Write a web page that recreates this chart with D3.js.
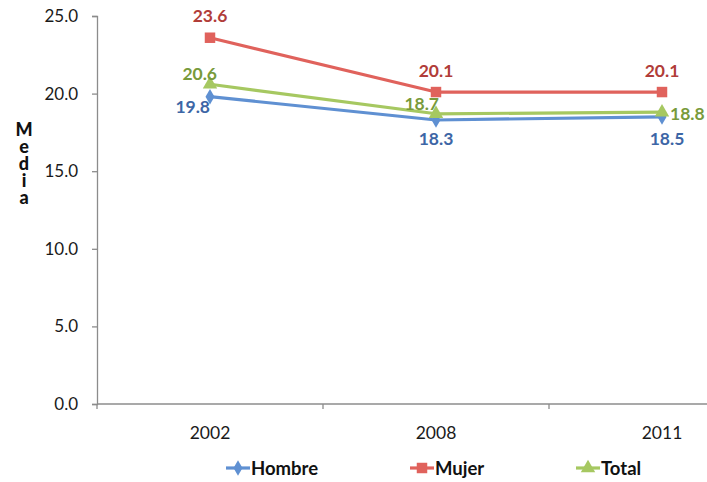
<!DOCTYPE html>
<html>
<head>
<meta charset="utf-8">
<script src="https://cdn.jsdelivr.net/npm/d3@7"></script>
<style>
  html, body { margin: 0; padding: 0; background: #fff; overflow: hidden; }
  svg { display: block; font-family: Lato, "Open Sans", sans-serif; }
</style>
</head>
<body>
<div id="chart"></div>
<script>
// Survey means by year and sex
const years = ["2002", "2008", "2011"];
const hombre = [19.8, 18.3, 18.5];
const mujer = [23.6, 20.1, 20.1];
const total = [20.6, 18.7, 18.8];
const yTicks = [0, 5, 10, 15, 20, 25];
const seriesNames = ["Hombre", "Mujer", "Total"];

const W = 707, H = 482;
const svg = d3.select("#chart").append("svg").attr("width", W).attr("height", H);

const x = d3.scaleBand().domain(years).range([97, 775]);
const y = d3.scaleLinear().domain([0, 25]).range([404, 16]);

// Y axis
const yAxis = svg.append("g").attr("transform", "translate(97,0)")
  .call(d3.axisLeft(y).tickValues(yTicks).tickFormat(d3.format(".1f")).tickSize(5).tickPadding(14));
yAxis.select(".domain").attr("stroke", "#8c8c8c").attr("stroke-width", 1.3);
yAxis.selectAll(".tick line").attr("stroke", "#8c8c8c").attr("stroke-width", 1.3);
yAxis.selectAll(".tick text").attr("font-size", 17).attr("fill", "#1a1a1a")
  .attr("font-family", "Lato, sans-serif");

// X axis (ticks at band boundaries)
const xAxisG = svg.append("g").attr("transform", "translate(0,404)");
xAxisG.append("line").attr("x1", 97).attr("x2", 775).attr("stroke", "#8c8c8c").attr("stroke-width", 1.3);
xAxisG.selectAll("line.bt").data(years).enter().append("line").attr("class", "bt")
  .attr("x1", d => x(d)).attr("x2", d => x(d)).attr("y1", 0).attr("y2", 5)
  .attr("stroke", "#8c8c8c").attr("stroke-width", 1.3);
xAxisG.selectAll("text").data(years).enter().append("text")
  .attr("x", d => x(d) + x.bandwidth() / 2).attr("y", 35)
  .attr("text-anchor", "middle").attr("font-size", 17.5).attr("fill", "#1a1a1a").text(d => d);

// Y axis title, letters stacked upright
svg.append("text")
  .attr("x", 24).attr("y", 118)
  .style("writing-mode", "vertical-rl").style("text-orientation", "upright")
  .attr("font-size", 18).attr("font-weight", 900).attr("letter-spacing", -5)
  .attr("fill", "#111").text("Media");

const cx = d => x(d) + x.bandwidth() / 2;

const series = [
  { name: "Hombre", values: hombre, line: "#5f90d2", label: "#3d66a6", marker: "diamond" },
  { name: "Mujer", values: mujer, line: "#e0625c", label: "#b13d39", marker: "square" },
  { name: "Total", values: total, line: "#a6c861", label: "#789a3b", marker: "triangle" }
];

const symType = { diamond: d3.symbolDiamond, square: d3.symbolSquare, triangle: d3.symbolTriangle };
const symSize = { diamond: 70, square: 110, triangle: 90 };

const lineGen = d3.line().x((d, i) => cx(years[i])).y(d => y(d));

series.forEach(s => {
  const g = svg.append("g");
  g.append("path").datum(s.values).attr("d", lineGen)
    .attr("fill", "none").attr("stroke", s.line).attr("stroke-width", 3.2).attr("stroke-linejoin", "round");
  g.selectAll("path.m").data(s.values).enter().append("path").attr("class", "m")
    .attr("d", d3.symbol().type(symType[s.marker]).size(symSize[s.marker]))
    .attr("transform", (d, i) => `translate(${cx(years[i])},${y(d)})`)
    .attr("fill", s.line);
});

// Data labels: offsets [dx, dy, anchor] per series and point
const labelPos = {
  Hombre: [[0, 16, "end"], [0, 25, "middle"], [5, 28, "middle"]],
  Mujer: [[0, -16, "middle"], [0, -15, "middle"], [0, -15, "middle"]],
  Total: [[7, -4, "end"], [3, -4, "end"], [8, 8, "start"]]
};
series.forEach(s => {
  svg.append("g").selectAll("text").data(s.values).enter().append("text")
    .attr("x", (d, i) => cx(years[i]) + labelPos[s.name][i][0])
    .attr("y", (d, i) => y(d) + labelPos[s.name][i][1])
    .attr("text-anchor", (d, i) => labelPos[s.name][i][2])
    .attr("font-size", 17.5).attr("font-weight", 700).attr("fill", s.label)
    .text(d => d3.format(".1f")(d));
});

// Legend
const legendX = [226, 410, 576];
const lg = svg.append("g").attr("transform", "translate(0,468)");
series.forEach((s, i) => {
  const gi = lg.append("g").attr("transform", `translate(${legendX[i]},0)`);
  gi.append("line").attr("x1", 0).attr("x2", 24).attr("stroke", s.line).attr("stroke-width", 3.2);
  gi.append("path").attr("d", d3.symbol().type(symType[s.marker]).size(symSize[s.marker]))
    .attr("transform", "translate(12,0)").attr("fill", s.line);
  gi.append("text").attr("x", 25).attr("y", 6.5).attr("font-size", 18.5).attr("font-weight", 700)
    .attr("fill", "#111").text(seriesNames[i]);
});
</script>
</body>
</html>
